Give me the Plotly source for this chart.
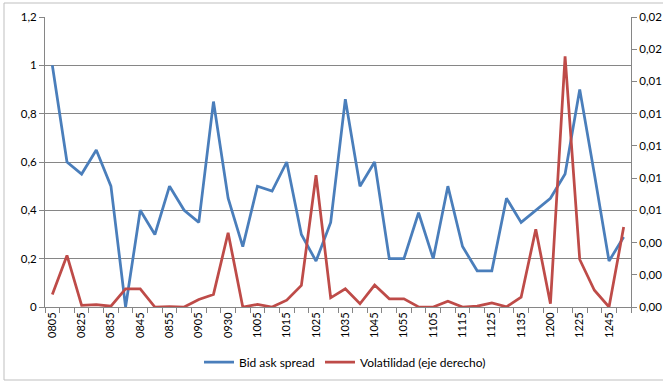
import plotly.graph_objects as go

# Intraday time buckets (hhmm)
categories = [
    "0805", "0815", "0825", "0830", "0835", "0840", "0845", "0850", "0855", "0900",
    "0905", "0915", "0930", "0945", "1005", "1010", "1015", "1020", "1025", "1030",
    "1035", "1040", "1045", "1050", "1055", "1100", "1105", "1110", "1115", "1120",
    "1125", "1130", "1135", "1140", "1200", "1215", "1225", "1235", "1245", "1250",
]

# Bid ask spread (left axis)
bid_ask = [
    1.00, 0.60, 0.55, 0.65, 0.50, 0.00, 0.40, 0.30, 0.50, 0.40,
    0.35, 0.85, 0.45, 0.25, 0.50, 0.48, 0.60, 0.30, 0.19, 0.35,
    0.86, 0.50, 0.60, 0.20, 0.20, 0.39, 0.20, 0.50, 0.25, 0.15,
    0.15, 0.45, 0.35, 0.40, 0.45, 0.55, 0.90, 0.55, 0.19, 0.29,
]

# Volatility (right axis)
volatility = [
    0.00078, 0.00320, 0.00010, 0.00014, 0.00005, 0.00113, 0.00113, 0.00000, 0.00002, 0.00000,
    0.00047, 0.00078, 0.00461, 0.00000, 0.00016, 0.00000, 0.00042, 0.00134, 0.00818, 0.00057,
    0.00113, 0.00020, 0.00136, 0.00051, 0.00051, 0.00001, 0.00000, 0.00036, 0.00000, 0.00005,
    0.00026, 0.00001, 0.00061, 0.00482, 0.00020, 0.01556, 0.00295, 0.00104, 0.00000, 0.00496,
]

left_ticks = [0, 0.2, 0.4, 0.6, 0.8, 1.0, 1.2]
right_ticks = [0, 0.002, 0.004, 0.006, 0.008, 0.010, 0.012, 0.014, 0.016, 0.018]

BLUE = "#4A7EBB"
RED = "#BE4B48"
AXIS = "#868686"
FONT = "Lato"
W, H = 663, 383

idx = list(range(len(categories)))

fig = go.Figure()
fig.add_trace(go.Scatter(
    x=idx, y=bid_ask, mode="lines", name="Bid ask spread",
    line=dict(color=BLUE, width=2.75), yaxis="y", legend="legend",
))
fig.add_trace(go.Scatter(
    x=idx, y=volatility, mode="lines", name="Volatilidad (eje derecho)",
    line=dict(color=RED, width=2.75), yaxis="y2", legend="legend2",
))

legend_style = dict(
    orientation="h", xref="container", yref="container",
    xanchor="left", yanchor="middle", y=1 - 362 / H,
    font=dict(family=FONT, size=12, color="#000000"),
    itemwidth=30, bgcolor="rgba(0,0,0,0)",
)

fig.update_layout(
    width=W, height=H,
    margin=dict(l=45, r=32, t=17, b=76, autoexpand=False),
    paper_bgcolor="white", plot_bgcolor="white",
    separators=",.",
    font=dict(family=FONT, size=11, color="#000000"),
    showlegend=True,
    legend=dict(x=199 / W, **legend_style),
    legend2=dict(x=320 / W, **legend_style),
    xaxis=dict(
        range=[-0.5, len(categories) - 0.5],
        tickmode="array", tickvals=idx[::2], ticktext=categories[::2],
        tickangle=-90, ticks="", showgrid=False, zeroline=False,
        showline=True, linecolor=AXIS, linewidth=1,
        minor=dict(ticks="outside", tick0=0.5, dtick=1, ticklen=5,
                   tickcolor=AXIS, tickwidth=1, showgrid=False),
        tickfont=dict(family=FONT, size=11),
    ),
    yaxis=dict(
        range=[0, 1.2], tickmode="array", tickvals=left_ticks,
        showgrid=True, gridcolor=AXIS, gridwidth=1, zeroline=False,
        showline=True, linecolor=AXIS, linewidth=1,
        ticks="outside", ticklen=5, tickcolor=AXIS,
        tickfont=dict(family=FONT, size=11.5),
    ),
    yaxis2=dict(
        range=[0, 0.018], overlaying="y", side="right",
        tickmode="array", tickvals=right_ticks, tickformat=".2f",
        showgrid=False, zeroline=False,
        showline=True, linecolor=AXIS, linewidth=1,
        ticks="outside", ticklen=5, tickcolor=AXIS,
        tickfont=dict(family=FONT, size=11.5),
    ),
    shapes=[dict(
        type="rect", xref="paper", yref="paper",
        x0=(4 - 45) / 586, x1=(675 - 45) / 586,
        y0=(307 - 380) / 290, y1=(307 - 3) / 290,
        line=dict(color="#BFBFBF", width=1), fillcolor="rgba(0,0,0,0)",
        layer="below",
    )],
)

fig.write_html("out.html")
